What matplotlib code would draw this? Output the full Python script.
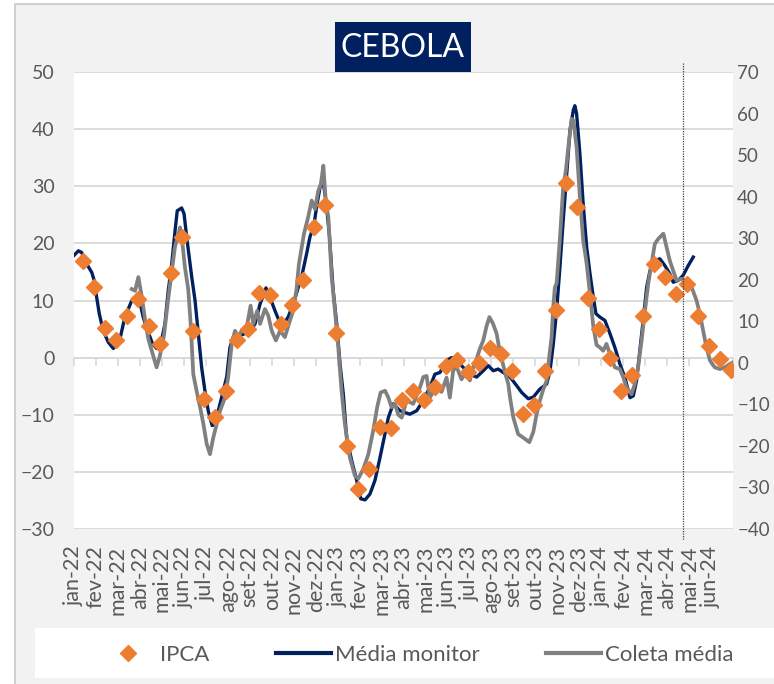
import matplotlib
matplotlib.use("Agg")
import matplotlib.pyplot as plt
from matplotlib import font_manager
from matplotlib.lines import Line2D
from matplotlib.patches import Rectangle
import numpy as np

# ---------------- data ----------------
meses = ['jan-22', 'fev-22', 'mar-22', 'abr-22', 'mai-22', 'jun-22', 'jul-22', 'ago-22',
         'set-22', 'out-22', 'nov-22', 'dez-22', 'jan-23', 'fev-23', 'mar-23', 'abr-23',
         'mai-23', 'jun-23', 'jul-23', 'ago-23', 'set-23', 'out-23', 'nov-23', 'dez-23',
         'jan-24', 'fev-24', 'mar-24', 'abr-24', 'mai-24', 'jun-24']

# IPCA (two readings per month: mid-month and end of month)
ipca = [16.9, 12.3, 5.1, 3.0, 7.2, 10.2, 5.6, 2.3, 14.9, 21.2,
        4.6, -7.3, -10.4, -5.8, 3.1, 5.0, 11.3, 11.0, 5.8, 9.2,
        13.6, 22.8, 26.7, 4.3, -15.4, -23.0, -19.5, -12.1, -12.3, -7.4,
        -5.8, -7.5, -5.1, -1.5, -0.4, -2.6, -0.9, 1.6, 0.6, -2.4,
        -9.9, -8.3, -2.4, 8.3, 30.5, 26.4, 10.5, 5.0, 0.0, -5.8,
        -3.0, 7.2, 16.4, 14.2, 11.2, 12.9, 7.2, 2.0, -0.2, -2.2]
ipca_mes = np.arange(len(ipca)) * 0.5 + 0.42   # time in months since jan-22

# Média monitor (time in months since jan-22, value)
monitor_mes = [0.00, 0.20, 0.35, 0.58, 0.81, 0.92, 1.03, 1.15, 1.33, 1.56,
               1.79, 1.94, 2.13, 2.28, 2.47, 2.63, 2.85, 3.00, 3.15, 3.38,
               3.58, 3.76, 3.95, 4.14, 4.29, 4.45, 4.60, 4.70, 4.90, 5.01,
               5.13, 5.36, 5.51, 5.66, 5.81, 5.96, 6.11, 6.29, 6.42, 6.57,
               6.72, 6.95, 7.10, 7.25, 7.56, 7.78, 8.01, 8.24, 8.47, 8.74,
               8.92, 9.15, 9.30, 9.53, 9.75, 9.98, 10.21, 10.36, 10.59, 10.74,
               10.92, 11.05, 11.20, 11.32, 11.47, 11.62, 11.80, 11.96, 12.11, 12.26,
               12.41, 12.64, 12.87, 13.05, 13.25, 13.47, 13.70, 13.93, 14.12, 14.31,
               14.53, 14.84, 15.29, 15.60, 15.90, 16.20, 16.43, 16.66, 16.96, 17.19,
               17.49, 17.72, 18.02, 18.33, 18.63, 18.86, 19.09, 19.31, 19.54, 19.85,
               20.15, 20.38, 20.68, 20.91, 21.21, 21.52, 21.67, 21.82, 21.97, 22.12,
               22.27, 22.43, 22.58, 22.73, 22.80, 22.88, 23.03, 23.18, 23.34, 23.49,
               23.64, 23.76, 23.94, 24.17, 24.40, 24.62, 24.85, 25.08, 25.31, 25.46,
               25.61, 25.76, 25.91, 26.07, 26.22, 26.44, 26.67, 26.90, 27.12, 27.28,
               27.50, 27.73, 27.96, 28.19]
monitor_val = [17.9, 18.7, 18.4, 16.4, 14.9, 13.5, 10.6, 7.7, 4.7, 2.7,
               1.6, 2.4, 3.9, 6.5, 8.5, 10.0, 10.3, 9.7, 7.1, 4.4,
               2.4, 1.6, 2.4, 5.9, 11.7, 16.4, 22.2, 25.7, 26.2, 25.2,
               21.1, 14.1, 10.0, 4.2, -1.7, -5.8, -9.3, -11.9, -11.6, -9.3,
               -7.0, -3.4, 1.8, 3.6, 3.9, 4.2, 4.7, 5.9, 9.4, 12.2,
               10.6, 8.2, 6.8, 5.9, 7.1, 9.4, 12.3, 14.1, 18.2, 21.1,
               23.1, 26.6, 29.8, 31.3, 27.5, 21.7, 11.7, 5.9, -1.1, -6.4,
               -14.0, -18.0, -21.5, -24.7, -24.9, -23.9, -21.5, -17.5, -14.0, -10.5,
               -8.1, -9.3, -9.9, -9.3, -7.5, -5.2, -2.9, -2.6, -0.5, 0.0,
               -0.8, -1.7, -2.9, -3.4, -2.3, -1.4, -2.3, -2.0, -2.6, -3.4,
               -4.9, -6.1, -7.2, -6.9, -5.5, -4.6, -2.3, 2.4, 8.2, 15.8,
               24.0, 32.2, 39.8, 43.3, 44.1, 42.7, 35.7, 26.9, 19.3, 14.7,
               10.6, 7.7, 7.1, 6.5, 4.2, 1.8, -1.1, -3.5, -7.0, -6.7,
               -4.0, 1.2, 6.5, 12.3, 15.2, 17.0, 17.3, 16.1, 14.7, 13.2,
               13.5, 14.4, 16.1, 17.6]

# Coleta média (time in months since jan-22, value)
coleta_mes = [2.63, 2.78, 2.93, 3.08, 3.23, 3.38, 3.54, 3.71, 3.76, 3.91,
              4.10, 4.28, 4.45, 4.60, 4.75, 4.83, 4.95, 5.05, 5.20, 5.31,
              5.43, 5.58, 5.74, 5.89, 6.04, 6.19, 6.34, 6.50, 6.65, 6.87,
              7.02, 7.18, 7.33, 7.48, 7.63, 7.86, 8.04, 8.16, 8.34, 8.47,
              8.69, 8.84, 9.00, 9.19, 9.38, 9.60, 9.83, 9.98, 10.13, 10.24,
              10.47, 10.66, 10.82, 10.97, 11.12, 11.24, 11.35, 11.47, 11.58, 11.73,
              11.88, 12.03, 12.18, 12.33, 12.56, 12.79, 12.94, 13.17, 13.40, 13.62,
              13.80, 13.96, 14.16, 14.31, 14.46, 14.61, 14.76, 14.92, 15.14, 15.44,
              15.75, 15.90, 16.05, 16.20, 16.35, 16.51, 16.73, 16.96, 17.11, 17.26,
              17.41, 17.64, 17.86, 18.02, 18.17, 18.33, 18.48, 18.63, 18.78, 18.91,
              19.07, 19.24, 19.34, 19.47, 19.62, 19.77, 19.85, 20.00, 20.22, 20.45,
              20.73, 20.91, 21.06, 21.21, 21.36, 21.52, 21.63, 21.74, 21.82, 21.89,
              21.97, 22.12, 22.27, 22.39, 22.50, 22.65, 22.74, 22.88, 23.03, 23.18,
              23.34, 23.49, 23.64, 23.79, 23.94, 24.09, 24.24, 24.40, 24.62, 24.85,
              25.00, 25.15, 25.38, 25.53, 25.68, 25.84, 25.99, 26.14, 26.29, 26.44,
              26.60, 26.83, 26.98, 27.12, 27.28, 27.43, 27.66, 27.89, 28.12, 28.34,
              28.49, 28.64, 28.79, 28.95, 29.17, 29.40, 29.63, 29.86, 30.01]
coleta_val = [12.0, 11.7, 14.1, 10.8, 6.8, 3.3, 1.2, -1.1, -1.7, 0.3,
              4.0, 10.0, 15.0, 19.5, 21.5, 22.8, 19.5, 15.8, 12.0, 6.0,
              -2.9, -5.8, -8.7, -11.6, -15.1, -16.9, -14.0, -11.6, -9.3, -7.0,
              -3.4, 2.4, 4.7, 3.6, 4.7, 5.3, 9.1, 5.9, 8.2, 5.9,
              8.5, 7.4, 4.7, 3.0, 4.7, 3.6, 6.5, 8.2, 12.0, 16.4,
              21.7, 24.6, 27.5, 26.0, 29.2, 30.4, 33.6, 26.9, 24.6, 14.1,
              8.2, 1.8, -5.8, -11.6, -17.5, -20.7, -21.2, -19.5, -16.9, -12.8,
              -8.7, -6.1, -5.8, -7.0, -8.7, -8.1, -10.0, -10.5, -7.5, -8.1,
              -5.2, -3.4, -3.2, -7.0, -6.0, -5.2, -6.0, -3.5, -7.0, -2.3,
              -1.5, -3.8, -2.5, -4.0, -1.7, -0.2, 1.6, 3.0, 5.5, 7.1,
              6.0, 4.2, 2.0, -0.2, -2.6, -4.6, -7.0, -10.5, -13.4, -14.0,
              -14.8, -13.0, -9.9, -7.5, -5.6, -4.0, 0.0, 3.5, 9.0, 12.3,
              13.0, 20.8, 29.8, 32.7, 36.8, 41.8, 41.5, 36.8, 28.1, 20.5,
              16.4, 11.1, 5.5, 2.2, 1.8, 1.2, 2.4, 0.6, -1.7, -2.0,
              -3.4, -5.2, -6.4, -4.6, -1.7, 3.0, 8.2, 12.9, 16.4, 19.9,
              20.8, 21.7, 19.3, 17.0, 15.2, 13.5, 13.8, 13.5, 12.3, 10.0,
              7.7, 4.7, 1.8, -0.5, -1.7, -2.0, -1.7, -1.1, -0.8]

marco_mes = 27.73   # dotted reference line

y_esq = list(range(-30, 51, 10))
y_dir = list(range(-40, 71, 10))

# ---------------- style ----------------
names = {f.name for f in font_manager.fontManager.ttflist}
fam = 'Lato' if 'Lato' in names else 'DejaVu Sans'
plt.rcParams['font.family'] = [fam, 'DejaVu Sans']

C_NAVY = '#002060'
C_GRAY = '#808080'
C_ORANGE = '#ED7D31'
C_TXT = '#595959'
C_GRID = '#d9d9d9'

W, H = 774, 684
fig = plt.figure(figsize=(W / 100, H / 100), dpi=100, facecolor='white')

# outer chart area (light gray with border)
fig.add_artist(Rectangle((15 / W, -0.05), 1.2, 1 - 4 / H + 0.05, transform=fig.transFigure,
                         facecolor='#f2f2f2', edgecolor='#c8c8c8', lw=1.2, zorder=-10))

ax = fig.add_axes([74 / W, 1 - 529 / H, (733 - 74) / W, (529 - 72) / H])
ax.set_facecolor('white')
for s in ax.spines.values():
    s.set_visible(False)

ax.set_xlim(0, 30)
ax.set_ylim(-30, 50)
ax.set_yticks(y_esq)
ax.yaxis.grid(True, color=C_GRID, lw=1.3)
ax.set_axisbelow(True)
ax.tick_params(axis='y', length=0, labelsize=14, labelcolor=C_TXT, pad=14)
ax.set_xticks(range(len(meses)))
ax.set_xticklabels(meses, rotation=90, va='top', ha='center')
ax.tick_params(axis='x', length=0, labelsize=15.5, labelcolor=C_TXT, pad=12)

# zero axis with month ticks
sec = ax.secondary_xaxis(0.375)
sec.set_xticks(range(len(meses) + 1))
sec.set_xticklabels([])
sec.tick_params(axis='x', length=6, width=1.2, color=C_GRID, direction='out')
sec.spines['bottom'].set_color(C_GRID)
sec.spines['bottom'].set_linewidth(1.3)

ax.plot(monitor_mes, monitor_val, color=C_NAVY, lw=2.4, zorder=3, solid_joinstyle='round')
ax.plot(coleta_mes, coleta_val, color=C_GRAY, lw=2.7, zorder=4, solid_joinstyle='round')
ax.plot(ipca_mes, ipca, ls='none', marker='D', ms=8, color=C_ORANGE, mec=C_ORANGE, zorder=5)

ax.plot([marco_mes, marco_mes], [1.02, -0.024], transform=ax.get_xaxis_transform(),
        clip_on=False, color='#404040', lw=0.9, ls=(0, (1, 1)), zorder=6)

ax2 = ax.twinx()
ax2.set_ylim(-40, 70)
ax2.set_yticks(y_dir)
ax2.tick_params(axis='y', length=0, labelsize=13.5, labelcolor=C_TXT, pad=3)
for s in ax2.spines.values():
    s.set_visible(False)

# title box
fig.add_artist(Rectangle((335 / W, 1 - 72 / H), 136 / W, 50 / H, transform=fig.transFigure,
                         facecolor=C_NAVY, edgecolor='none', zorder=10))
fig.text(403 / W, 1 - 48 / H, 'CEBOLA', color='white', fontsize=23, ha='center', va='center',
         zorder=11)

# legend
fig.add_artist(Rectangle((35 / W, 6 / H), 1.0, 50 / H, transform=fig.transFigure,
                         facecolor='white', edgecolor='none', zorder=1))
handles = [Line2D([], [], ls='none', marker='D', ms=8, color=C_ORANGE),
           Line2D([], [], color=C_NAVY, lw=3),
           Line2D([], [], color=C_GRAY, lw=3)]
leg = fig.legend(handles, ['IPCA', 'Média monitor', 'Coleta média'], ncol=3, loc='center',
                 bbox_to_anchor=(417 / W, 29 / H), frameon=False, fontsize=16,
                 handlelength=2.5, handletextpad=0.15, columnspacing=3.0)
for t in leg.get_texts():
    t.set_color(C_TXT)
leg.set_zorder(12)

fig.savefig('out.png', dpi=100, facecolor=fig.get_facecolor())
